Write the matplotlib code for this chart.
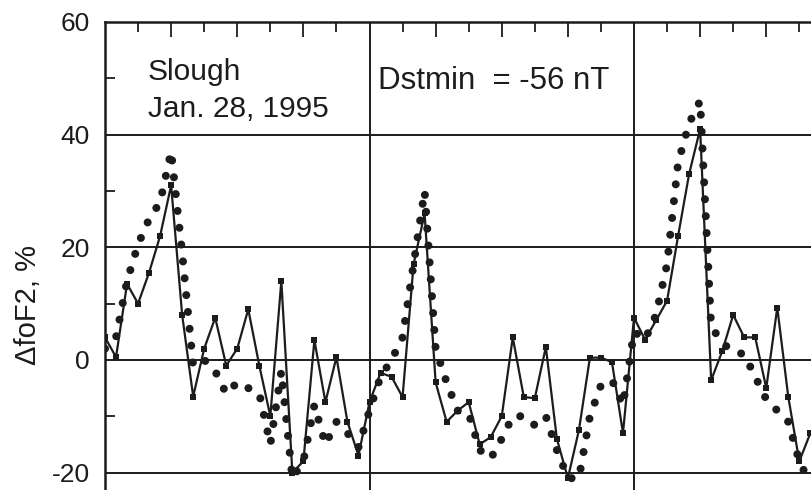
import matplotlib
matplotlib.use("Agg")
import matplotlib.pyplot as plt
import numpy as np

# Hours from the start of Jan. 28, 1995 (hourly)
hours = list(range(0, 65))

# Observed dfoF2, % (solid line with squares)
observed = [
    4, 0.5, 13.5, 10, 15.5, 22, 31, 8, -6.5, 2, 7.5, -1, 2, 9, -1, -10,
    14, -20, -18, 3.5, -7.5, 0.5, -11, -17,
    -7.5, -2.3, -3, -6.6, 17, 26, -4, -11, -9, -7.5, -15, -13.7, -10, 4,
    -6.6, -6.8, 2.3, -14, -21, -12.5, 0.4, 0.4, -0.4, -13,
    7.5, 3.6, 7, 10.5, 22, 33, 41, -3.6, 1.5, 8, 4, 4, -5, 9.3, -6.6, -18, -13,
]

# Model dfoF2, % (dotted curve)
model = [
    2, 4, 14, 20.5, 25, 28, 37, 19, -1, 0, -2, -6, -4, -5, -6, -15,
    -2, -21, -18, -8, -15, -11, -13, -15.5,
    -9, -3, 0, 4, 17, 30, 2, -4, -9, -9.5, -16, -17.5, -14, -10,
    -10, -11.6, -10, -16, -21, -21, -10, -4.5, -3.6, -8,
    5, 3.6, 8, 17, 35, 42, 46, 6, 3, 1.5, 1, -3, -7, -9, -11, -18, -22,
]

y_major = [-20, 0, 20, 40, 60]
y_minor = [-10, 10, 30, 50]
day_bounds = [24, 48]

ink = "#1c1c1c"
plt.rcParams["font.family"] = ["Liberation Sans", "DejaVu Sans"]

fig = plt.figure(figsize=(8.11, 4.90), dpi=100)
ax = fig.add_axes([105 / 811, 0.0, 1 - 105 / 811, 1 - 22 / 490])
ax.set_xlim(0, 64.06)
ax.set_ylim(-23.1, 60)

# grid lines
for v in y_major[:-1]:
    ax.axhline(v, color=ink, lw=1.4, zorder=1)
for d in day_bounds:
    ax.axvline(d, color=ink, lw=1.4, zorder=1)

# model: thick dotted curve
ax.plot(hours, model, color=ink, lw=5.8, linestyle=(0, (0.001, 2.1)),
        dash_capstyle="round", solid_capstyle="round", zorder=2)
# observed: line with small squares
ax.plot(hours, observed, color=ink, lw=1.6, marker="s", markersize=5.0,
        markeredgewidth=0, zorder=3)

# spines
for s in ["bottom", "right"]:
    ax.spines[s].set_visible(False)
for s in ["top", "left"]:
    ax.spines[s].set_linewidth(1.8)
    ax.spines[s].set_color(ink)

# y ticks
ax.set_yticks(y_major)
ax.set_yticklabels([str(v) for v in y_major])
ax.set_yticks(y_minor, minor=True)
ax.tick_params(axis="y", which="major", direction="in", length=0, pad=11,
               labelsize=19, labelcolor=ink)
ax.tick_params(axis="y", which="minor", direction="in", length=7, width=1.3, color=ink)

# x ticks on top
ax.set_xticks([6, 12, 18, 30, 36, 42, 54, 60])
ax.set_xticks([3, 9, 15, 21, 27, 33, 39, 45, 51, 57, 63], minor=True)
ax.tick_params(axis="x", which="both", bottom=False, top=True, labelbottom=False,
               labeltop=False, direction="in", color=ink)
ax.tick_params(axis="x", which="major", length=11, width=1.3)
ax.tick_params(axis="x", which="minor", length=7, width=1.3)

# annotations
ax.text(3.9, 49.7, "Slough", fontsize=21.5, color=ink, va="baseline", ha="left")
ax.text(3.9, 43.1, "Jan. 28, 1995", fontsize=21.5, color=ink, va="baseline", ha="left")
ax.text(24.8, 48.1, "Dstmin  = -56 nT", fontsize=22.5, color=ink, va="baseline", ha="left")

fig.text(28 / 811, 1 - 305 / 490, "ΔfoF2, %", rotation=90, va="center", ha="center",
         fontsize=21, color=ink)

fig.savefig("out.png", dpi=100)
